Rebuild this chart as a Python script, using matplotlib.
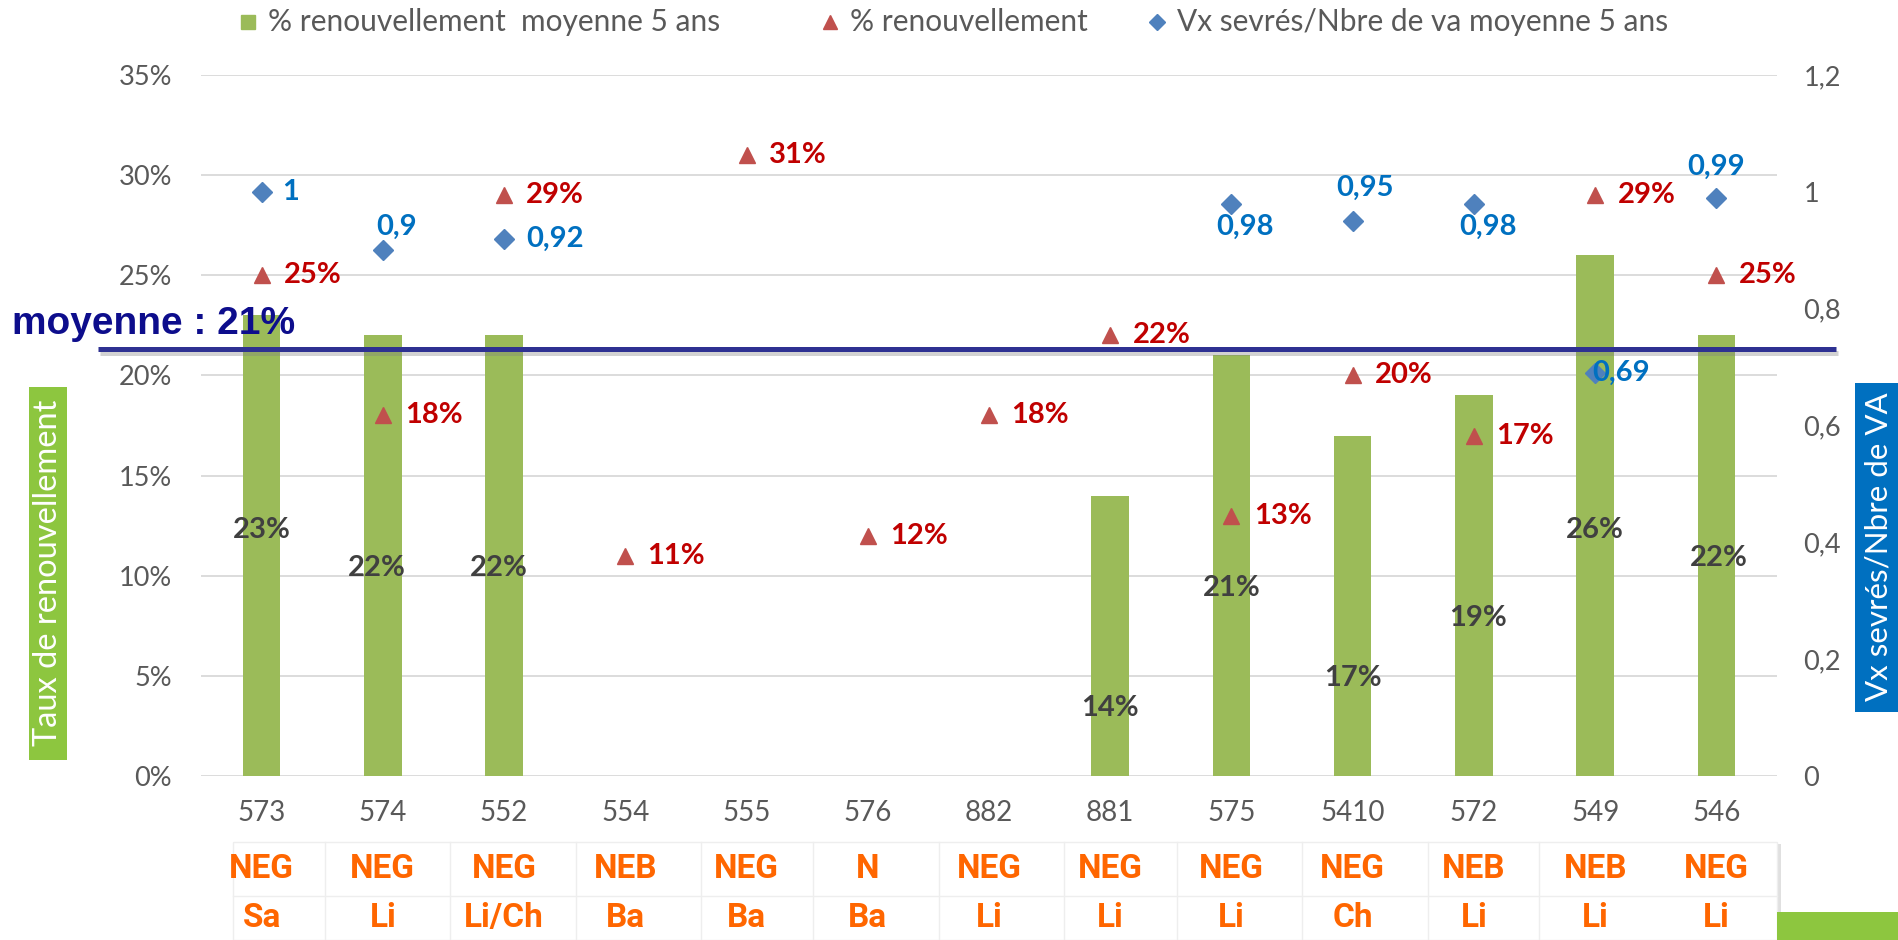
import numpy as np
import matplotlib
matplotlib.use("Agg")
import matplotlib.pyplot as plt
from matplotlib.lines import Line2D
from matplotlib.patches import Rectangle
from matplotlib.transforms import blended_transform_factory
import matplotlib.patheffects as pe

# ---------------- data ----------------
categories = ['573', '574', '552', '554', '555', '576', '882', '881', '575', '5410', '572', '549', '546']
renouv_moy5 = [0.23, 0.22, 0.22, np.nan, np.nan, np.nan, np.nan, 0.14, 0.21, 0.17, 0.19, 0.26, 0.22]
renouv = [0.25, 0.18, 0.29, 0.11, 0.31, 0.12, 0.18, 0.22, 0.13, 0.20, 0.17, 0.29, 0.25]
vx_sevres = [1.0, 0.90, 0.92, np.nan, np.nan, np.nan, np.nan, np.nan, 0.98, 0.95, 0.98, 0.69, 0.99]
moyenne = 0.213
row_type = ['NEG', 'NEG', 'NEG', 'NEB', 'NEG', 'N', 'NEG', 'NEG', 'NEG', 'NEG', 'NEB', 'NEB', 'NEG']
row_race = ['Sa', 'Li', 'Li/Ch', 'Ba', 'Ba', 'Ba', 'Li', 'Li', 'Li', 'Ch', 'Li', 'Li', 'Li']
left_ticks = [0, 0.05, 0.10, 0.15, 0.20, 0.25, 0.30, 0.35]
right_ticks = [0, 0.2, 0.4, 0.6, 0.8, 1.0, 1.2]

# label placement (styling only)
bar_label_y = [0.123, 0.104, 0.104, None, None, None, None, 0.034, 0.094, 0.049, 0.079, 0.123, 0.109]
bar_label_dx = [0, -4, -4, 0, 0, 0, 0, 0, 0, 0, 3, 0, 2]
vx_label_off = [(15, 0, 'left'), (10, 17, 'center'), (16, 0, 'left'), None, None, None, None, None,
                (10, -17, 'center'), (9, 24, 'center'), (10, -17, 'center'), (19, 0, 'center'), (0, 22, 'center')]

# ---------------- colors ----------------
C_BAR = '#9BBB59'
C_TRI = '#C0504D'
C_DIA = '#4F81BD'
C_RED = '#C00000'
C_BLUE = '#0070C0'
C_GRAY = '#595959'
C_LBL = '#404040'
C_NAVY = '#2E3192'
C_ORANGE = '#FF6600'
C_GREEN_BOX = '#8DC63F'

W, H = 1899, 940
fig = plt.figure(figsize=(W / 100, H / 100), dpi=100)
fig.patch.set_facecolor('white')

def fx(px):
    return px / W

def fy(py):
    return 1 - py / H

ax_left, ax_right, ax_top, ax_bot = 201, 1777, 75, 776
ax = fig.add_axes([fx(ax_left), fy(ax_bot), fx(ax_right - ax_left), fy(ax_top) - fy(ax_bot)])
ax2 = ax.twinx()

FONT = ['Lato', 'DejaVu Sans']
x = np.arange(len(categories))

ax.bar(x, renouv_moy5, width=0.31, color=C_BAR, zorder=2)
ax.set_xlim(-0.5, len(categories) - 0.5)
ax.set_ylim(0, 0.35)
ax2.set_ylim(0, 1.2)

ax.set_yticks(left_ticks)
ax.set_yticklabels([f"{int(round(t * 100))}%" for t in left_ticks], fontsize=19.5, color=C_GRAY, family=FONT)
ax2.set_yticks(right_ticks)
ax2.set_yticklabels([f"{t:g}".replace('.', ',') for t in right_ticks], fontsize=19.5, color=C_GRAY, family=FONT)
ax.set_xticks(x)
ax.set_xticklabels(categories, fontsize=20, color=C_GRAY, family=FONT)
ax.tick_params(axis='y', length=0, pad=21)
ax2.tick_params(axis='y', length=0, pad=19)
ax.tick_params(axis='x', length=0, pad=17)
for a in (ax, ax2):
    for s in a.spines.values():
        s.set_visible(False)
ax.yaxis.grid(True, color='#D9D9D9', lw=1.3, zorder=0)
ax.set_axisbelow(True)

LBL_FS = 21

# bar labels
for i, v in enumerate(renouv_moy5):
    if not np.isnan(v):
        ax.annotate(f"{int(round(v * 100))}%", (x[i], bar_label_y[i]), xytext=(bar_label_dx[i], 0),
                    textcoords='offset points', ha='center', va='center', fontsize=LBL_FS,
                    fontweight='bold', color=C_LBL, family=FONT, zorder=5)

# triangles
ax.plot(x, renouv, ls='none', marker='^', ms=11.5, color=C_TRI, zorder=4)
for i, v in enumerate(renouv):
    if not np.isnan(v):
        ax.annotate(f"{int(round(v * 100))}%", (x[i], v), xytext=(16, 0), textcoords='offset points',
                    ha='left', va='center', fontsize=LBL_FS, fontweight='bold', color=C_RED, family=FONT,
                    zorder=5)

# diamonds
ax2.plot(x, vx_sevres, ls='none', marker='D', ms=10.5, color=C_DIA, zorder=4)
for i, v in enumerate(vx_sevres):
    if not np.isnan(v):
        dx, dy, ha = vx_label_off[i]
        ax2.annotate(f"{v:g}".replace('.', ','), (x[i], v), xytext=(dx, dy), textcoords='offset points',
                     ha=ha, va='center', fontsize=LBL_FS, fontweight='bold', color=C_BLUE, family=FONT,
                     zorder=6)

# average line
tr = blended_transform_factory(fig.transFigure, ax.transData)
ax.plot([fx(98), fx(1836)], [moyenne, moyenne], transform=tr, clip_on=False, color=C_NAVY, lw=3.6,
        solid_capstyle='butt', zorder=3,
        path_effects=[pe.SimpleLineShadow(offset=(1.5, -2.5), shadow_color='gray', alpha=0.35), pe.Normal()])
fig.text(fx(12), fy(324), "moyenne : 21%", fontsize=28, fontweight='bold', color='#0D0D8C',
         family=['Liberation Sans', 'DejaVu Sans'], ha='left', va='center')

# legend (manual)
ly = fy(22)
leg_items = [(248, 's', C_BAR, 10, "% renouvellement  moyenne 5 ans"),
             (830, '^', C_TRI, 10, "% renouvellement"),
             (1157, 'D', C_DIA, 8, "Vx sevrés/Nbre de va moyenne 5 ans")]
for px, m, c, ms, txt in leg_items:
    fig.add_artist(Line2D([fx(px)], [ly], transform=fig.transFigure, marker=m, ls='none', color=c, ms=ms))
    fig.text(fx(px + 20), ly, txt, fontsize=21.5, color=C_GRAY, family=FONT, ha='left', va='center')

# axis title boxes
fig.add_artist(Rectangle((fx(29), fy(760)), fx(38), fy(387) - fy(760), transform=fig.transFigure,
                         facecolor=C_GREEN_BOX, edgecolor='none'))
fig.text(fx(48), fy(573), "Taux de renouvellement", rotation=90, ha='center', va='center',
         fontsize=23.5, color='white', family=FONT)
fig.add_artist(Rectangle((fx(1855), fy(712)), fx(44), fy(383) - fy(712), transform=fig.transFigure,
                         facecolor=C_BLUE, edgecolor='none'))
fig.text(fx(1879), fy(547), "Vx sevrés/Nbre de VA", rotation=90, ha='center', va='center',
         fontsize=22.5, color='white', family=FONT)

# bottom table
tbl_left, tbl_right, tbl_top, tbl_mid = 233, 1777, 842, 896
fig.add_artist(Rectangle((fx(tbl_right), fy(H)), fx(4), fy(tbl_top + 2) - fy(H), transform=fig.transFigure,
                         facecolor='#E0E0E0', edgecolor='none'))
fig.add_artist(Rectangle((fx(tbl_left), fy(H)), fx(tbl_right - tbl_left), fy(tbl_top) - fy(H),
                         transform=fig.transFigure, facecolor='white', edgecolor='#EEEEEE', lw=1))
fig.add_artist(Line2D([fx(tbl_left), fx(tbl_right)], [fy(tbl_mid), fy(tbl_mid)], transform=fig.transFigure,
                      color='#EEEEEE', lw=1))
col_lines = [325, 450, 576, 701, 813, 939, 1064, 1177, 1302, 1428, 1539]
for cx in col_lines:
    fig.add_artist(Line2D([fx(cx), fx(cx)], [fy(H), fy(tbl_top)], transform=fig.transFigure,
                          color='#EEEEEE', lw=1))
trt = blended_transform_factory(ax.transData, fig.transFigure)
TFONT = ['Roboto', 'DejaVu Sans']
for i in range(len(categories)):
    fig.text(x[i], fy(869), row_type[i], transform=trt, ha='center', va='center', fontsize=24,
             fontweight='bold', color=C_ORANGE, family=TFONT)
    fig.text(x[i], fy(918), row_race[i], transform=trt, ha='center', va='center', fontsize=24,
             fontweight='bold', color=C_ORANGE, family=TFONT)
fig.add_artist(Rectangle((fx(1777), 0), fx(W - 1777), fy(912), transform=fig.transFigure,
                         facecolor=C_GREEN_BOX, edgecolor='none'))

fig.savefig('out.png', dpi=100)
